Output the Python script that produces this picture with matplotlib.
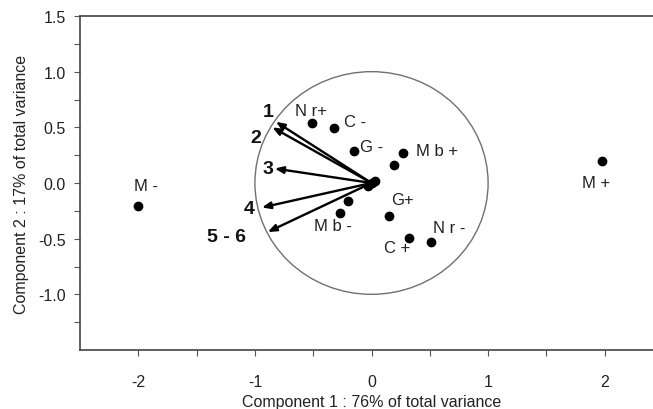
import matplotlib
matplotlib.use("Agg")
import matplotlib.pyplot as plt
from matplotlib.patches import Circle

plt.rcParams['font.family'] = ['Liberation Sans', 'DejaVu Sans']
plt.rcParams['axes.unicode_minus'] = False

# observation scores (dots)
pt_x = [-2.0, 1.98, -0.51, -0.32, -0.15, 0.27, 0.19, 0.15, 0.32, 0.51, -0.27, -0.20, 0.03, -0.03, 0.0]
pt_y = [-0.21, 0.20, 0.54, 0.49, 0.29, 0.27, 0.16, -0.30, -0.49, -0.53, -0.27, -0.16, 0.02, -0.03, 0.0]

# point labels
lab_text = ['M -', 'M +', 'N r+', 'C -', 'G -', 'M b +', 'G+', 'N r -', 'C +', 'M b -']
lab_x = [-1.93, 1.93, -0.52, -0.14, 0.0, 0.56, 0.27, 0.67, 0.22, -0.33]
lab_y = [-0.02, 0.0, 0.65, 0.55, 0.33, 0.29, -0.15, -0.40, -0.58, -0.38]

# variable loadings (arrows)
vec_name = ['1', '2', '3', '4', '5 - 6']
vec_x = [-0.82, -0.85, -0.83, -0.94, -0.89]
vec_y = [0.55, 0.50, 0.13, -0.22, -0.44]
vec_lx = [-0.89, -0.99, -0.89, -1.05, -1.24]
vec_ly = [0.64, 0.41, 0.13, -0.23, -0.48]

fig = plt.figure(figsize=(6.53, 4.10), dpi=100)
ax = fig.add_axes([80 / 653, 1 - 351 / 410, 583 / 653, 334 / 410])

ax.add_patch(Circle((0, 0), 1.0, fill=False, edgecolor='#707070', lw=1.0))

for x, y in zip(vec_x, vec_y):
    ax.annotate('', xy=(x, y), xytext=(0, 0),
                arrowprops=dict(arrowstyle='-|>,head_length=0.5,head_width=0.2', color='black',
                                lw=1.7, mutation_scale=10, shrinkA=0, shrinkB=0))
for t, x, y in zip(vec_name, vec_lx, vec_ly):
    ax.text(x, y, t, ha='center', va='center', fontsize=14, fontweight='bold', color='#111111')

ax.plot(pt_x, pt_y, 'o', color='black', markersize=6)
for t, x, y in zip(lab_text, lab_x, lab_y):
    ax.text(x, y, t, ha='center', va='center', fontsize=12, color='#222222')

ax.set_xlim(-2.5, 2.5)
ax.set_ylim(-1.5, 1.5)
ax.set_xticks([-2, -1, 0, 1, 2])
ax.set_xticks([-1.5, -0.5, 0.5, 1.5], minor=True)
ax.set_yticks([-1.0, -0.5, 0.0, 0.5, 1.0, 1.5])
ax.set_yticklabels(['-1.0', '-0.5', '0.0', '0.5', '1.0', '1.5'])
ax.set_yticks([-1.25, -0.75, -0.25, 0.25, 0.75, 1.25], minor=True)
ax.tick_params(which='both', direction='out', length=4, width=0.8, color='#555555',
               labelsize=11.5, labelcolor='#222222')
ax.tick_params(axis='x', pad=13)
ax.tick_params(axis='y', pad=6)
for s in ax.spines.values():
    s.set_color('#444444')
    s.set_linewidth(1.2)

ax.set_xlabel('Component 1 : 76% of total variance', fontsize=11.5, color='#222222', labelpad=4)
ax.set_ylabel('Component 2 : 17% of total variance', fontsize=11.5, color='#222222', labelpad=7)

fig.savefig('out.png', dpi=100)
